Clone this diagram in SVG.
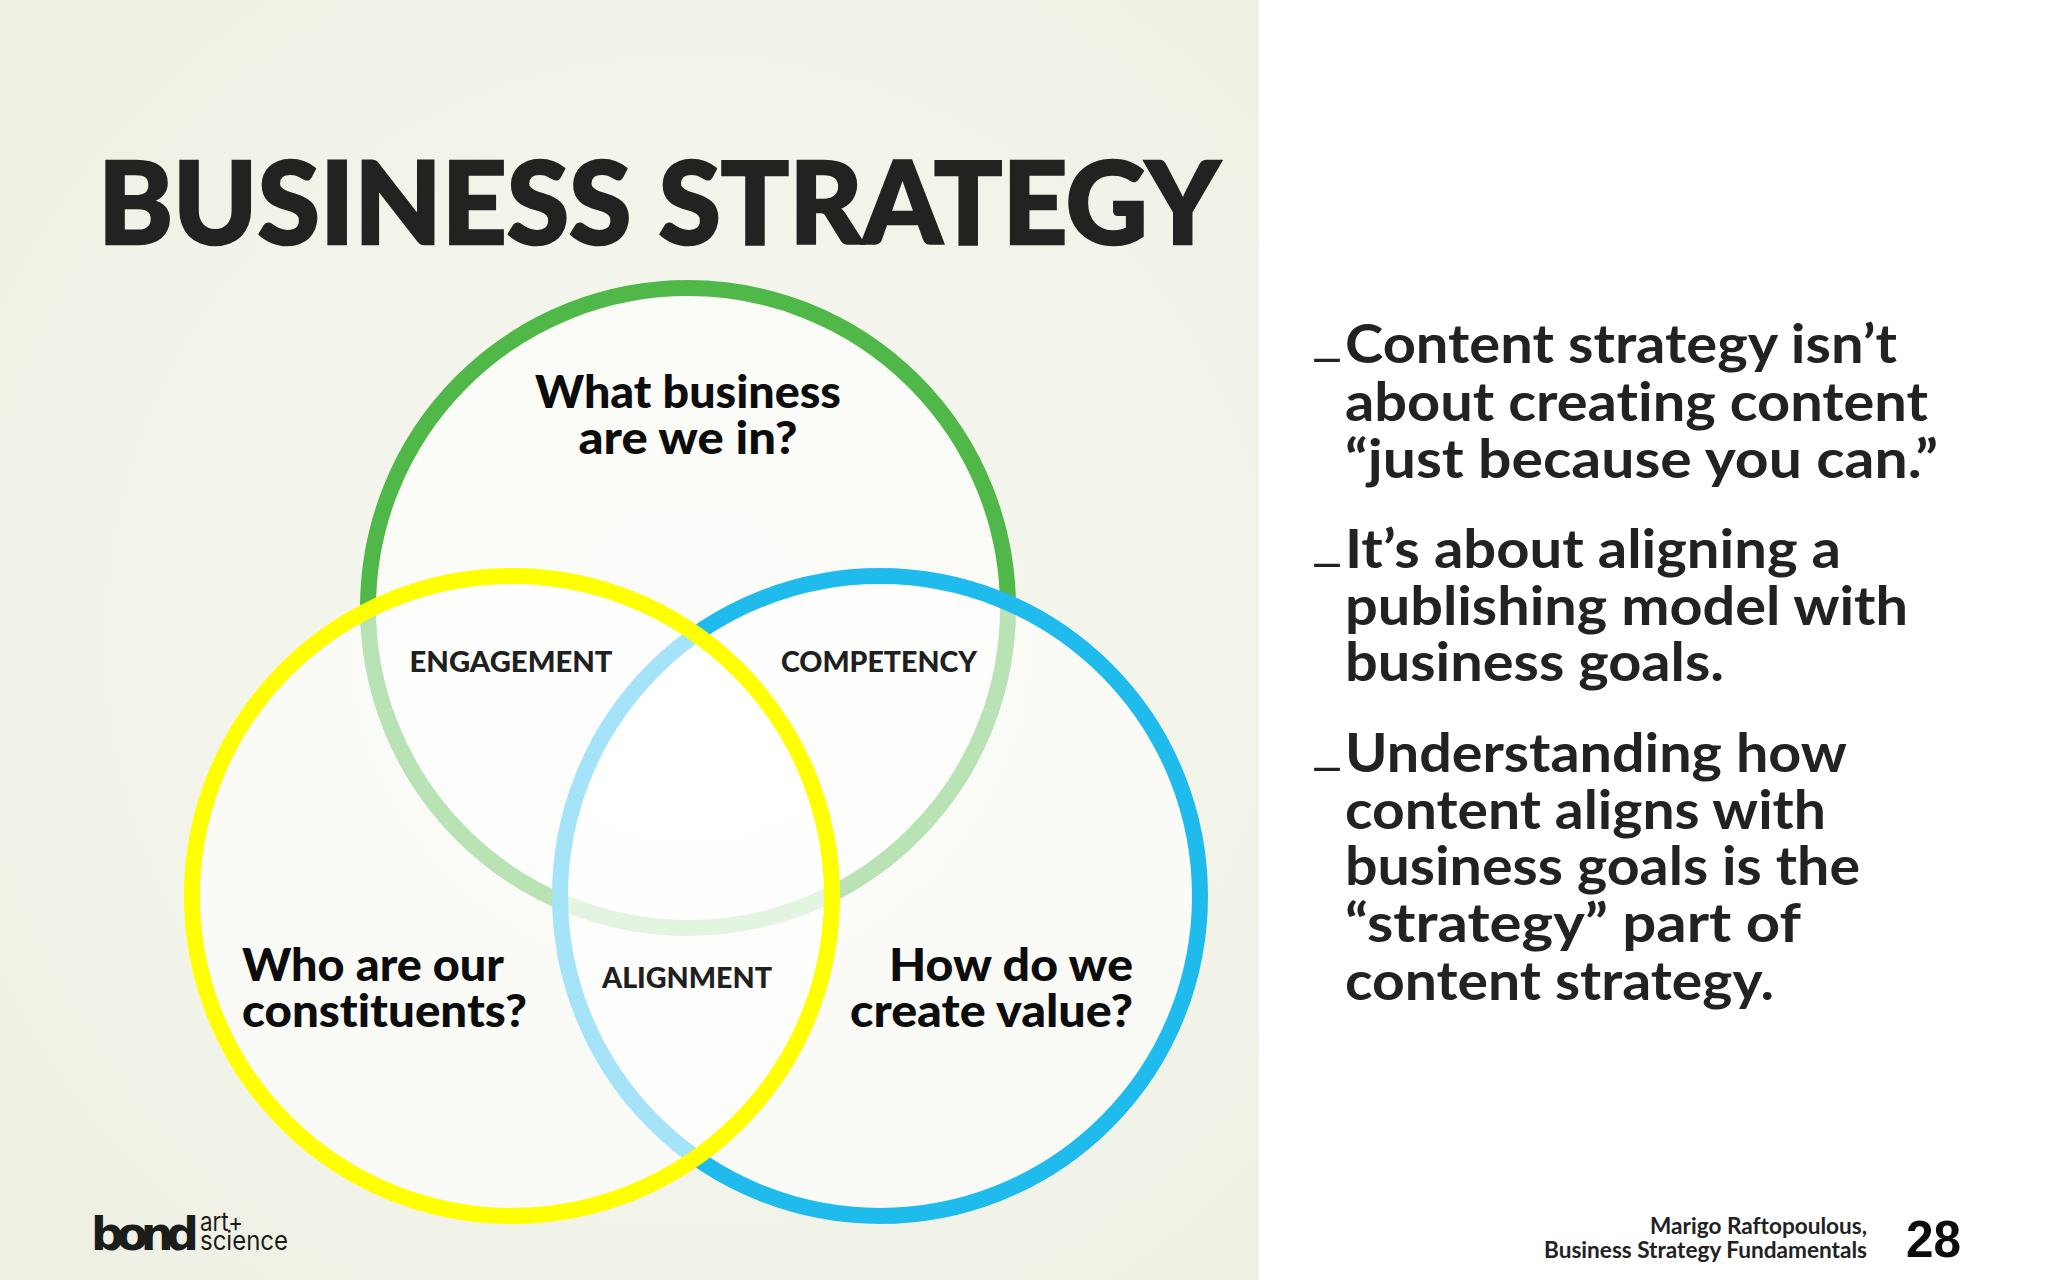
<svg xmlns="http://www.w3.org/2000/svg" width="2048" height="1280" viewBox="0 0 2048 1280">
<defs>
<radialGradient id="panel" gradientUnits="userSpaceOnUse" cx="690" cy="640" r="900">
<stop offset="0" stop-color="#f6f8f0"/><stop offset="0.6" stop-color="#f2f4ea"/><stop offset="1" stop-color="#eef0e3"/>
</radialGradient>
</defs>
<style>
text{font-family:"Lato","Noto Sans",sans-serif;font-variant-ligatures:none}
.ring{fill:#fff;fill-opacity:.6;stroke-width:16}
.q{font-size:46px;font-weight:900;fill:#0c0c0c}
.tag{font-size:28px;font-weight:900;fill:#202020;text-anchor:middle}
.body{font-size:54px;font-weight:700;fill:#222}
.dash{font-size:54px;font-weight:400;fill:#222}
.foot{font-size:23px;font-weight:700;fill:#222}
.sub{font-family:"Inter","Liberation Sans",sans-serif;font-size:26px;font-weight:400;fill:#1c1c1a}
</style>
<rect width="2048" height="1280" fill="#fff"/>
<rect width="1259" height="1280" fill="url(#panel)"/>
<text id="title" x="98" y="244" font-size="115" font-weight="900" fill="#222220" stroke="#222220" stroke-width="2.5" textLength="1122" lengthAdjust="spacingAndGlyphs">BUSINESS STRATEGY</text>
<g id="connectors"/>
<g id="node-green"><circle class="ring" cx="688" cy="608" r="320" stroke="#50b848"/></g>
<g id="node-blue"><circle class="ring" cx="880" cy="896" r="320" stroke="#1fbbed"/></g>
<g id="node-yellow"><circle class="ring" cx="512" cy="896" r="320" stroke="#ffff00"/></g>
<g id="label-business">
<text class="q" x="688" y="408" text-anchor="middle" textLength="306" lengthAdjust="spacingAndGlyphs">What business</text>
<text class="q" x="688" y="454" text-anchor="middle" textLength="219" lengthAdjust="spacingAndGlyphs">are we in?</text>
</g>
<g id="label-constituents">
<text class="q" x="242" y="981" textLength="262" lengthAdjust="spacingAndGlyphs">Who are our</text>
<text class="q" x="242" y="1027" textLength="285" lengthAdjust="spacingAndGlyphs">constituents?</text>
</g>
<g id="label-value">
<text class="q" x="1133" y="981" text-anchor="end" textLength="244" lengthAdjust="spacingAndGlyphs">How do we</text>
<text class="q" x="1133" y="1027" text-anchor="end" textLength="283" lengthAdjust="spacingAndGlyphs">create value?</text>
</g>
<g id="tag-engagement"><text class="tag" x="511" y="672" textLength="203" lengthAdjust="spacingAndGlyphs">ENGAGEMENT</text></g>
<g id="tag-competency"><text class="tag" x="879" y="672" textLength="196" lengthAdjust="spacingAndGlyphs">COMPETENCY</text></g>
<g id="tag-alignment"><text class="tag" x="687" y="988" textLength="170" lengthAdjust="spacingAndGlyphs">ALIGNMENT</text></g>
<g id="bullets">
<text class="dash" x="1312" y="354" textLength="30" lengthAdjust="spacingAndGlyphs">_</text>
<text class="body" x="1345" y="363" textLength="552" lengthAdjust="spacingAndGlyphs">Content strategy isn’t</text>
<text class="body" x="1345" y="421" textLength="583" lengthAdjust="spacingAndGlyphs">about creating content</text>
<text class="body" x="1345" y="478" textLength="593" lengthAdjust="spacingAndGlyphs">“just because you can.”</text>
<text class="dash" x="1312" y="559" textLength="30" lengthAdjust="spacingAndGlyphs">_</text>
<text class="body" x="1345" y="568" textLength="496" lengthAdjust="spacingAndGlyphs">It’s about aligning a</text>
<text class="body" x="1345" y="625" textLength="563" lengthAdjust="spacingAndGlyphs">publishing model with</text>
<text class="body" x="1345" y="681" textLength="379" lengthAdjust="spacingAndGlyphs">business goals.</text>
<text class="dash" x="1312" y="763" textLength="30" lengthAdjust="spacingAndGlyphs">_</text>
<text class="body" x="1345" y="772" textLength="502" lengthAdjust="spacingAndGlyphs">Understanding how</text>
<text class="body" x="1345" y="829" textLength="481" lengthAdjust="spacingAndGlyphs">content aligns with</text>
<text class="body" x="1345" y="885" textLength="515" lengthAdjust="spacingAndGlyphs">business goals is the</text>
<text class="body" x="1345" y="942" textLength="456" lengthAdjust="spacingAndGlyphs">“strategy” part of</text>
<text class="body" x="1345" y="1000" textLength="429" lengthAdjust="spacingAndGlyphs">content strategy.</text>
</g>
<g id="logo">
<text x="91" y="1250" font-size="46" font-weight="700" fill="#1c1c1a" style="font-family:'DejaVu Sans',sans-serif" textLength="108" lengthAdjust="spacing">bond</text>
<text class="sub" x="200" y="1231" textLength="43" lengthAdjust="spacingAndGlyphs">art+</text>
<text class="sub" x="200" y="1250" textLength="88" lengthAdjust="spacingAndGlyphs">science</text>
</g>
<g id="footer">
<text class="foot" x="1867" y="1234" text-anchor="end" textLength="217" lengthAdjust="spacingAndGlyphs">Marigo Raftopoulous,</text>
<text class="foot" x="1867" y="1258" text-anchor="end" textLength="323" lengthAdjust="spacingAndGlyphs">Business Strategy Fundamentals</text>
<text x="1906" y="1257" font-size="51" font-weight="700" fill="#0c0c0c" style="font-family:'Liberation Sans',sans-serif" textLength="55" lengthAdjust="spacingAndGlyphs">28</text>
</g>
</svg>
